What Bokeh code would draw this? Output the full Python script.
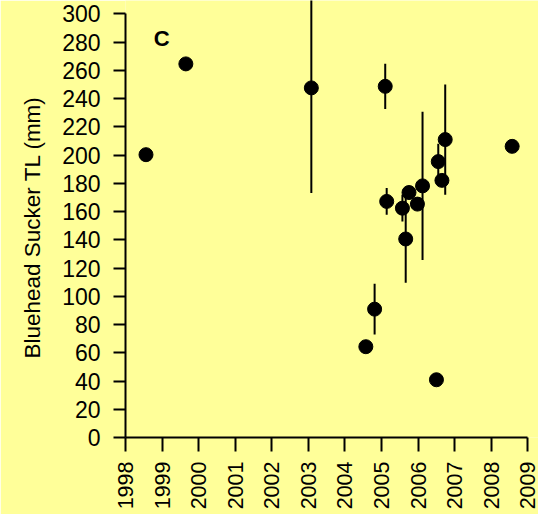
from bokeh.plotting import figure
from bokeh.models import Range1d, FixedTicker, Label, ColumnDataSource, Title
from bokeh.embed import file_html
from bokeh.resources import INLINE
import math

# ---- data ----
years = [1998.56, 1999.65, 2003.08, 2005.10, 2005.14, 2005.57, 2005.66, 2005.75,
         2005.98, 2006.12, 2006.55, 2006.74, 2008.57, 2006.65, 2004.81, 2004.57, 2006.50]
tl_mm = [200.3, 264.6, 247.6, 248.7, 167.2, 162.4, 140.6, 173.5,
         165.3, 178.2, 195.4, 211.0, 206.2, 182.1, 90.9, 64.3, 40.9]
tl_err = [0, 0, 74.4, 16.0, 9.5, 9.5, 31.0, 0,
          0, 52.5, 12.6, 39.0, 0, 0, 18.0, 0, 0]
x_ticks = [1998, 1999, 2000, 2001, 2002, 2003, 2004, 2005, 2006, 2007, 2008, 2009]
y_ticks = [0, 20, 40, 60, 80, 100, 120, 140, 160, 180, 200, 220, 240, 260, 280, 300]
y_title = "Bluehead Sucker TL (mm)"
panel_tag = "C"

BG = "#FFFF99"
FONT = "Liberation Sans"

lower = [v - e for v, e in zip(tl_mm, tl_err)]
upper = [v + e for v, e in zip(tl_mm, tl_err)]
src = ColumnDataSource(dict(x=years, y=tl_mm, lo=lower, hi=upper))

p = figure(width=538, height=514, output_backend="svg", toolbar_location=None,
           x_range=Range1d(1998, 2009.29), y_range=Range1d(0, 309.5),
           min_border_left=125, min_border_right=0, min_border_top=0, min_border_bottom=77)
p.background_fill_color = BG
p.border_fill_color = BG
p.outline_line_color = None
p.xgrid.grid_line_color = None
p.ygrid.grid_line_color = None

p.segment(x0="x", y0="lo", x1="x", y1="hi", source=src, line_color="black", line_width=2)
p.scatter(x="x", y="y", source=src, size=14, fill_color="black", line_color="black")

# axes
for ax in (p.xaxis[0], p.yaxis[0]):
    ax.axis_line_width = 2
    ax.axis_line_color = "black"
    ax.major_tick_line_width = 2
    ax.major_tick_line_color = "black"
    ax.major_tick_in = 0
    ax.minor_tick_line_color = None
    ax.major_label_text_font = FONT
    ax.major_label_text_color = "black"

p.xaxis.ticker = FixedTicker(ticks=x_ticks)
p.xaxis.bounds = (x_ticks[0], x_ticks[-1])
p.xaxis.major_tick_out = 14
p.xaxis.major_label_standoff = 10
p.xaxis.major_label_text_font_size = "21.5px"
p.xaxis.major_label_orientation = math.pi / 2

p.yaxis.ticker = FixedTicker(ticks=y_ticks)
p.yaxis.bounds = (y_ticks[0], y_ticks[-1])
p.yaxis.major_tick_out = 12
p.yaxis.major_label_standoff = 13
p.yaxis.major_label_text_font_size = "23px"

# y-axis title as a side title, anchored at the bottom and shifted up
p.add_layout(Title(text=y_title, align="left", offset=79, standoff=30,
                   text_font=FONT, text_font_size="22.5px", text_font_style="normal",
                   text_color="black"), "left")

p.add_layout(Label(x=1998.77, y=282.5, text=panel_tag, text_font=FONT,
                   text_font_size="22px", text_font_style="bold",
                   text_baseline="alphabetic", text_color="black"))

open("out.html", "w").write(file_html(p, INLINE))
